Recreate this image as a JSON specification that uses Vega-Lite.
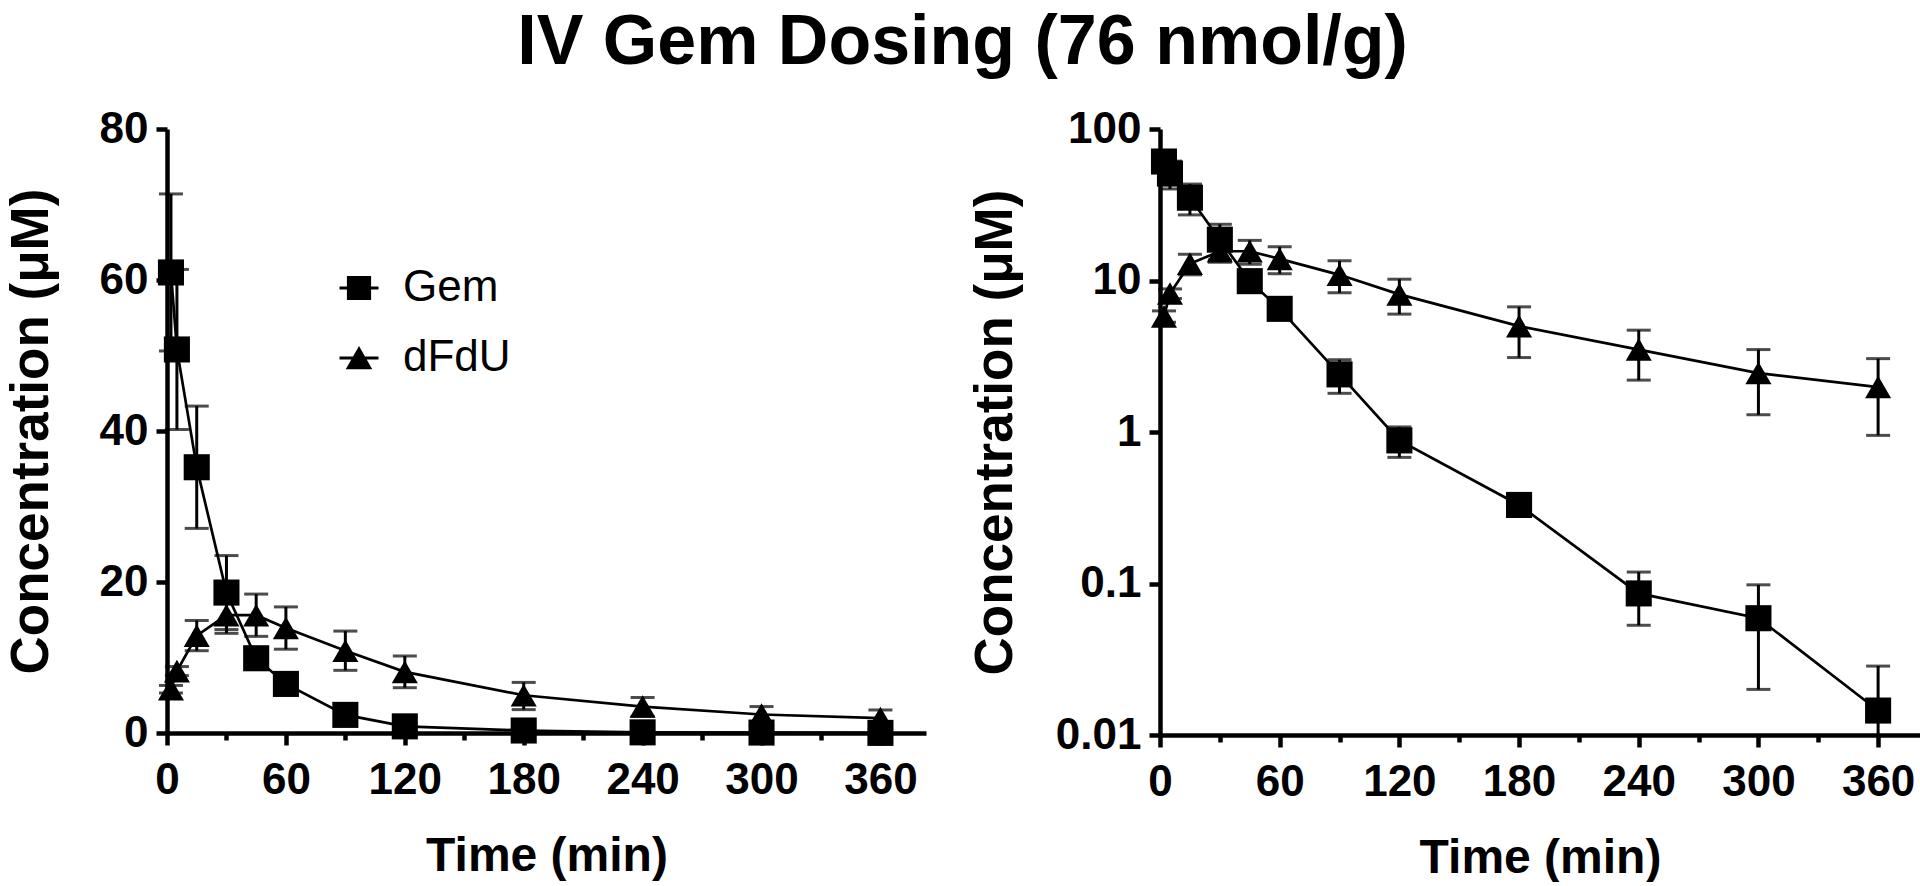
{
  "$schema": "https://vega.github.io/schema/vega-lite/v6.json",
  "background": "white",
  "padding": {"left": 5, "top": 8, "right": 0, "bottom": 0},
  "title": {"text": "IV Gem Dosing (76 nmol/g)", "font": "Liberation Sans", "fontSize": 70, "fontWeight": "bold", "color": "black", "anchor": "middle", "offset": 28},
  "spacing": 43,
  "datasets": {
    "pk": [
      {"t": 2, "compound": "dFdU", "mean": 5.8, "lo": 5.3, "hi": 6.3},
      {"t": 5, "compound": "dFdU", "mean": 8.2, "lo": 7.6, "hi": 8.8},
      {"t": 15, "compound": "dFdU", "mean": 12.9, "lo": 10.9, "hi": 14.9},
      {"t": 30, "compound": "dFdU", "mean": 15.6, "lo": 13.2, "hi": 18.0},
      {"t": 45, "compound": "dFdU", "mean": 15.6, "lo": 12.8, "hi": 18.4},
      {"t": 60, "compound": "dFdU", "mean": 13.9, "lo": 11.1, "hi": 16.7},
      {"t": 90, "compound": "dFdU", "mean": 10.9, "lo": 8.3, "hi": 13.5},
      {"t": 120, "compound": "dFdU", "mean": 8.1, "lo": 6.0, "hi": 10.2},
      {"t": 180, "compound": "dFdU", "mean": 5.0, "lo": 3.1, "hi": 6.7},
      {"t": 240, "compound": "dFdU", "mean": 3.5, "lo": 2.2, "hi": 4.7},
      {"t": 300, "compound": "dFdU", "mean": 2.45, "lo": 1.3, "hi": 3.5},
      {"t": 360, "compound": "dFdU", "mean": 1.98, "lo": 0.95, "hi": 3.05},
      {"t": 2, "compound": "Gem", "mean": 61.0, "lo": 50.6, "hi": 71.4},
      {"t": 5, "compound": "Gem", "mean": 50.8, "lo": 40.2, "hi": 61.4},
      {"t": 15, "compound": "Gem", "mean": 35.2, "lo": 27.1, "hi": 43.3},
      {"t": 30, "compound": "Gem", "mean": 18.6, "lo": 13.7, "hi": 23.5},
      {"t": 45, "compound": "Gem", "mean": 9.9, "lo": 8.5, "hi": 11.3},
      {"t": 60, "compound": "Gem", "mean": 6.5, "lo": 5.9, "hi": 7.1},
      {"t": 90, "compound": "Gem", "mean": 2.4, "lo": 1.8, "hi": 3.0},
      {"t": 120, "compound": "Gem", "mean": 0.88, "lo": 0.68, "hi": 1.08},
      {"t": 180, "compound": "Gem", "mean": 0.33, "lo": 0.28, "hi": 0.38},
      {"t": 240, "compound": "Gem", "mean": 0.086, "lo": 0.053, "hi": 0.119},
      {"t": 300, "compound": "Gem", "mean": 0.059, "lo": 0.02, "hi": 0.098},
      {"t": 360, "compound": "Gem", "mean": 0.0145, "lo": 0.0005, "hi": 0.0285}
    ]
  },
  "config": {
    "view": {"stroke": null},
    "font": "Liberation Sans",
    "axis": {
      "grid": false, "domainColor": "black", "domainWidth": 4.5, "tickColor": "black", "tickWidth": 4.5,
      "labelFont": "Liberation Sans", "labelFontSize": 44, "labelFontWeight": "bold", "labelColor": "black",
      "titleFont": "Liberation Sans", "titleFontWeight": "bold", "titleColor": "black"
    },
    "axisY": {"tickSize": 11, "labelPadding": 8, "titleFontSize": 53},
    "axisX": {"labelPadding": 13, "titleFontSize": 48, "titlePadding": 30}
  },
  "resolve": {"scale": {"shape": "independent"}, "legend": {"shape": "independent"}},
  "hconcat": [
    {
      "width": 759,
      "height": 604,
      "data": {"name": "pk"},
      "encoding": {
        "x": {
          "field": "t", "type": "quantitative", "title": "Time (min)",
          "scale": {"domain": [0, 383], "nice": false, "zero": false},
          "axis": {
            "values": [0, 30, 60, 90, 120, 150, 180, 210, 240, 270, 300, 330, 360],
            "labelExpr": "datum.value % 60 === 0 ? datum.label : ''",
            "tickSize": {"condition": {"test": "datum.value % 60 === 0", "value": 12}, "value": 7},
            "labelOverlap": false, "labelFlush": false
          }
        }
      },
      "layer": [
        {
          "mark": {"type": "rule", "strokeWidth": 3, "color": "black"},
          "encoding": {
            "y": {"field": "lo", "type": "quantitative", "title": "Concentration (μM)",
              "scale": {"domain": [0, 80], "nice": false},
              "axis": {"values": [0, 20, 40, 60, 80], "titlePadding": 41}},
            "y2": {"field": "hi"}
          }
        },
        {
          "mark": {"type": "tick", "orient": "horizontal", "size": 24, "thickness": 3, "color": "black"},
          "encoding": {"y": {"field": "lo", "type": "quantitative", "title": "Concentration (μM)"}}
        },
        {
          "mark": {"type": "tick", "orient": "horizontal", "size": 24, "thickness": 3, "color": "black"},
          "encoding": {"y": {"field": "hi", "type": "quantitative", "title": "Concentration (μM)"}}
        },
        {
          "mark": {"type": "line", "color": "black", "strokeWidth": 2.7},
          "encoding": {
            "y": {"field": "mean", "type": "quantitative", "title": "Concentration (μM)"},
            "detail": {"field": "compound", "type": "nominal"}
          }
        },
        {
          "mark": {"type": "point", "filled": true, "color": "black", "size": 680, "opacity": 1},
          "encoding": {
            "y": {"field": "mean", "type": "quantitative", "title": "Concentration (μM)"},
            "shape": {"field": "compound", "type": "nominal",
              "scale": {"domain": ["Gem", "dFdU"], "range": ["square", "triangle-up"]}, "legend": null}
          }
        },
        {
          "mark": {"type": "point", "filled": true, "color": "black", "size": 1521, "opacity": 0},
          "encoding": {
            "y": {"field": "mean", "type": "quantitative", "title": "Concentration (μM)"},
            "shape": {"field": "compound", "type": "nominal",
              "scale": {"domain": ["Gem", "dFdU"], "range": ["M-1,-0.08H1V0.08H-1ZM-0.62,-0.62H0.62V0.62H-0.62Z", "M-1,-0.08H1V0.08H-1ZM-0.68,0.58L0,-0.62L0.68,0.58Z"]},
              "legend": {
                "orient": "none", "legendX": 170, "legendY": 137, "title": null, "padding": 0,
                "labelFont": "Liberation Sans", "labelFontSize": 44, "labelFontWeight": "normal", "labelColor": "black",
                "symbolSize": 1521, "symbolFillColor": "black", "symbolOpacity": 1, "labelOffset": 22, "rowPadding": 26
              }
            }
          }
        }
      ],
      "resolve": {"scale": {"shape": "independent"}}
    },
    {
      "width": 760,
      "height": 606,
      "data": {"name": "pk"},
      "encoding": {
        "x": {
          "field": "t", "type": "quantitative", "title": "Time (min)",
          "scale": {"domain": [0, 381], "nice": false, "zero": false},
          "axis": {
            "values": [0, 30, 60, 90, 120, 150, 180, 210, 240, 270, 300, 330, 360],
            "labelExpr": "datum.value % 60 === 0 ? datum.label : ''",
            "tickSize": {"condition": {"test": "datum.value % 60 === 0", "value": 12}, "value": 7},
            "labelOverlap": false, "labelFlush": false
          }
        }
      },
      "layer": [
        {
          "mark": {"type": "rule", "strokeWidth": 3, "color": "black", "clip": true},
          "encoding": {
            "y": {"field": "lo", "type": "quantitative", "title": "Concentration (μM)",
              "scale": {"type": "log", "domain": [0.01, 100], "nice": false},
              "axis": {"values": [0.01, 0.1, 1, 10, 100], "format": "~g", "titlePadding": 33}},
            "y2": {"field": "hi"}
          }
        },
        {
          "mark": {"type": "tick", "orient": "horizontal", "size": 24, "thickness": 3, "color": "black", "clip": true},
          "encoding": {"y": {"field": "lo", "type": "quantitative", "title": "Concentration (μM)"}}
        },
        {
          "mark": {"type": "tick", "orient": "horizontal", "size": 24, "thickness": 3, "color": "black"},
          "encoding": {"y": {"field": "hi", "type": "quantitative", "title": "Concentration (μM)"}}
        },
        {
          "mark": {"type": "line", "color": "black", "strokeWidth": 2.7},
          "encoding": {
            "y": {"field": "mean", "type": "quantitative", "title": "Concentration (μM)"},
            "detail": {"field": "compound", "type": "nominal"}
          }
        },
        {
          "mark": {"type": "point", "filled": true, "color": "black", "size": 680, "opacity": 1},
          "encoding": {
            "y": {"field": "mean", "type": "quantitative", "title": "Concentration (μM)"},
            "shape": {"field": "compound", "type": "nominal",
              "scale": {"domain": ["Gem", "dFdU"], "range": ["square", "triangle-up"]}, "legend": null}
          }
        }
      ]
    }
  ]
}
